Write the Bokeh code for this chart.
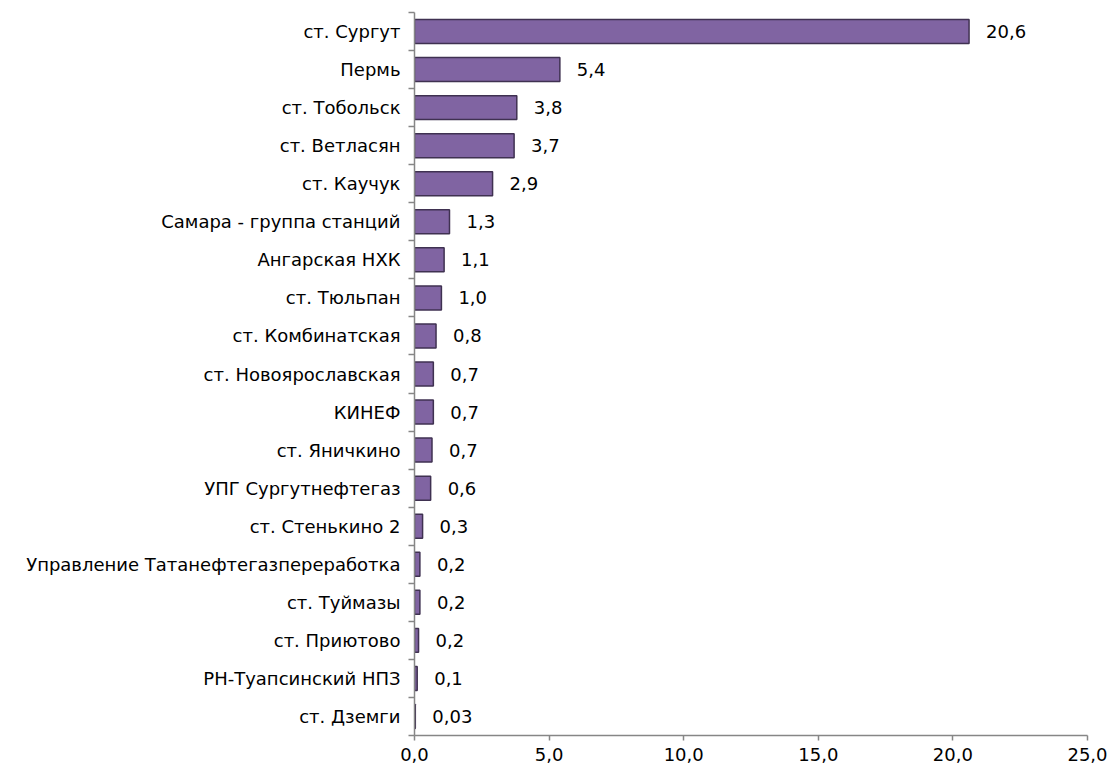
from bokeh.plotting import figure
from bokeh.models import ColumnDataSource, FixedTicker, Range1d
from bokeh.core.properties import value
from bokeh.embed import file_html
from bokeh.resources import INLINE

categories = ["ст. Сургут", "Пермь", "ст. Тобольск", "ст. Ветласян", "ст. Каучук",
              "Самара - группа станций", "Ангарская НХК", "ст. Тюльпан", "ст. Комбинатская",
              "ст. Новоярославская", "КИНЕФ", "ст. Яничкино", "УПГ Сургутнефтегаз",
              "ст. Стенькино 2", "Управление Татанефтегазпереработка", "ст. Туймазы",
              "ст. Приютово", "РН-Туапсинский НПЗ", "ст. Дземги"]
values = [20.6, 5.4, 3.8, 3.7, 2.9, 1.3, 1.1, 1.0, 0.8, 0.7, 0.7, 0.65, 0.6, 0.3, 0.2, 0.2, 0.15, 0.1, 0.03]
value_labels = ["20,6", "5,4", "3,8", "3,7", "2,9", "1,3", "1,1", "1,0", "0,8", "0,7", "0,7", "0,7",
                "0,6", "0,3", "0,2", "0,2", "0,2", "0,1", "0,03"]
x_ticks = [0, 5, 10, 15, 20, 25]
x_tick_labels = ["0,0", "5,0", "10,0", "15,0", "20,0", "25,0"]

n = len(categories)
ypos = [n - i - 0.5 for i in range(n)]
src = ColumnDataSource(dict(y=ypos, v=values, lab=value_labels, cat=categories))

FONT = "DejaVu Sans"
FS = "18px"

p = figure(frame_width=673, frame_height=723, output_backend="svg", toolbar_location=None,
           x_range=Range1d(0, 25), y_range=Range1d(0, n),
           min_border_left=414, min_border_top=12, min_border_right=26, min_border_bottom=0)
p.outline_line_color = None
p.grid.grid_line_color = None
p.background_fill_color = "white"

p.hbar(y="y", right="v", left=0, height=0.63, source=src,
       fill_color="#8064A2", line_color="#3F3151", line_width=1.5)
p.text(x="v", y="y", text="lab", source=src, x_offset=17, text_align="left",
       text_baseline="middle", text_font=value(FONT), text_font_size=FS, text_color="#000000")

# x axis
p.xaxis.ticker = FixedTicker(ticks=x_ticks)
p.xaxis.major_label_overrides = {t: l for t, l in zip(x_ticks, x_tick_labels)}
p.xaxis.axis_line_color = "#868686"
p.xaxis.axis_line_width = 1.5
p.xaxis.major_tick_line_color = "#868686"
p.xaxis.major_tick_line_width = 1.5
p.xaxis.major_tick_out = 5
p.xaxis.major_tick_in = 0
p.xaxis.minor_tick_line_color = None
p.xaxis.major_label_text_font = FONT
p.xaxis.major_label_text_font_size = FS
p.xaxis.major_label_text_color = "#000000"
p.xaxis.major_label_standoff = 7

# y axis: labels at centers, tick marks at category boundaries
p.yaxis.ticker = FixedTicker(ticks=ypos, minor_ticks=list(range(0, n + 1)))
p.yaxis.major_label_overrides = {y: c for y, c in zip(ypos, categories)}
p.yaxis.axis_line_color = "#868686"
p.yaxis.axis_line_width = 1.5
p.yaxis.major_tick_line_color = None
p.yaxis.minor_tick_line_color = "#868686"
p.yaxis.minor_tick_line_width = 1.5
p.yaxis.minor_tick_out = 6
p.yaxis.minor_tick_in = 0
p.yaxis.major_label_text_font = FONT
p.yaxis.major_label_text_font_size = FS
p.yaxis.major_label_text_color = "#000000"
p.yaxis.major_label_standoff = 8

open("out.html", "w").write(file_html(p, INLINE))
